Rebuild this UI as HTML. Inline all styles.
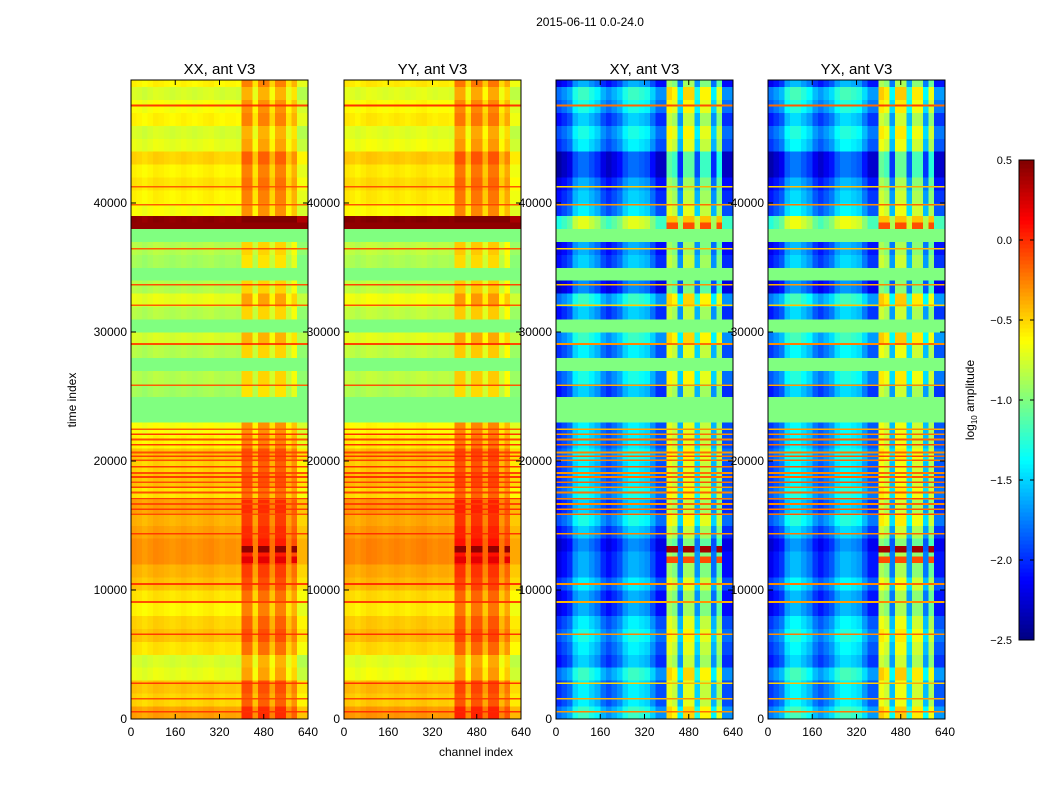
<!DOCTYPE html>
<html><head><meta charset="utf-8">
<style>
body{margin:0;background:#fff;}
svg{display:block;font-family:"Liberation Sans",sans-serif;}
</style></head>
<body>
<svg id="fig" width="1050" height="800" viewBox="0 0 1050 800">
<text x="590" y="26" font-size="12" text-anchor="middle">2015-06-11 0.0-24.0</text>
<g id="panels"></g>
<text x="476" y="756" font-size="12" text-anchor="middle">channel index</text>
<text x="76" y="400" font-size="12" text-anchor="middle" transform="rotate(-90 76 400)">time index</text>
<g id="cbar"></g>
<text x="974" y="400" font-size="12" text-anchor="middle" transform="rotate(-90 974 400)">log<tspan font-size="8" dy="3">10</tspan><tspan dy="-3"> amplitude</tspan></text>
</svg>
<script>
// ---- data ----
const panelTitles = ["XX, ant V3","YY, ant V3","XY, ant V3","YX, ant V3"];
const panelKinds = ["xx","xx","xy","xy"];
const panelShift = [0, 0.03, 0, 0.03];
const xTicks = [0,160,320,480,640];
const yTicks = [0,10000,20000,30000,40000];
const cbTicks = [-2.5,-2.0,-1.5,-1.0,-0.5,0.0,0.5];
// row level per 1000 time units (null = flagged -> green)
const xxRow = [-0.35,-0.5,-0.45,-0.7,-0.75,-0.55,-0.45,-0.5,-0.6,-0.55,-0.45,-0.4,-0.3,-0.3,-0.35,-0.4,-0.35,-0.55,-0.45,-0.5,-0.45,-0.6,-0.65,null,null,-0.9,-0.85,null,-0.85,-0.75,null,-0.85,-0.7,-0.85,null,-0.9,-0.85,null,0.45,-0.65,-0.6,-0.55,-0.6,-0.5,-0.7,-0.75,-0.6,-0.65,-0.75,-0.6];
const xyRow = [-1.6,-1.8,-1.8,-1.6,-1.9,-1.8,-1.7,-1.8,-2.0,-2.0,-1.8,-2.0,-2.0,-2.1,-1.9,-1.7,-1.9,-1.7,-1.8,-1.8,-1.7,-1.8,-1.8,null,null,-1.9,-1.7,null,-1.8,-1.6,null,-1.9,-1.6,-2.1,null,-1.9,-2.0,null,-1.1,-1.8,-1.9,-2.0,-2.2,-2.2,-1.8,-1.7,-1.9,-1.7,-1.6,-2.0];
// per 20-channel column offsets
const xxCol = [0.02,0,-0.03,0,0.03,0.02,0,-0.02,0,0.02,0,-0.02,0,0.02,0.03,0,-0.02,0,0,-0.02,0.35,0.35,0.05,0.35,0.35,0.1,0.35,0.35,0.05,0.2,-0.1,-0.1];
const xyCol = [-0.2,-0.1,0.0,0.3,0.4,0.4,0.3,0.2,0,-0.1,0,0.1,0.3,0.4,0.4,0.35,0.3,0.1,-0.1,-0.1,1.1,1.0,0.2,1.1,1.1,0.3,1.0,1.0,0.2,0.9,-0.1,-0.1];
// thin horizontal stripes
const stripeTimes = [500,1500,2700,6500,9000,10400,14300,15800,16200,16600,17000,17500,17900,18300,18700,19000,19500,20000,20300,20600,21200,21600,22000,22400,25800,29000,32000,33600,36400,39800,41200,47500];
const stripeXX = [-0.05,-0.1,-0.05,-0.05,-0.1,-0.05,-0.05,-0.1,-0.05,-0.1,-0.05,-0.1,-0.05,-0.1,-0.05,-0.1,-0.05,-0.1,-0.05,-0.1,-0.05,-0.1,-0.05,-0.15,-0.15,-0.1,-0.15,-0.1,-0.15,-0.15,-0.15,-0.05];
const stripeXY = [-0.3,-0.4,-0.5,-0.3,-0.4,-0.3,-0.3,-0.2,-0.25,-0.3,-0.2,-0.25,-0.3,-0.2,-0.25,-0.3,-0.2,-0.25,-0.2,-0.3,-0.2,-0.25,-0.3,-0.4,-0.4,-0.3,-0.5,-0.4,-0.5,-0.3,-0.5,-0.2];
const hotTimes = [12900, 12100, 38000];
const hotXY = [0.4, -0.1, -0.1];
const hotXX = [0.45, 0.2, 0.45];
// ---- geometry ----
const panelX = [131,344,556,768];
const pw = 177, yBot = 719, yTop = 80;
const tMax = (yBot - yTop) / 0.0129;
const ys = t => yBot - t * 0.0129;
const NS = "http://www.w3.org/2000/svg";
function clamp(v){return Math.max(0,Math.min(1,v));}
function jet(v){
  const t = clamp((v + 2.5) / 3);
  const r = clamp(1.5 - Math.abs(4*t-3)), g = clamp(1.5 - Math.abs(4*t-2)), b = clamp(1.5 - Math.abs(4*t-1));
  return `rgb(${Math.round(r*255)},${Math.round(g*255)},${Math.round(b*255)})`;
}
function mk(tag, attrs, parent){
  const e = document.createElementNS(NS, tag);
  for (const k in attrs) e.setAttribute(k, attrs[k]);
  parent.appendChild(e); return e;
}
const root = document.getElementById('panels');
panelTitles.forEach((title, p) => {
  const x0 = panelX[p], xs = c => x0 + c * pw / 640;
  const isXX = panelKinds[p] === 'xx';
  const g = mk('g', {}, root);
  
  
  const rows = isXX ? xxRow : xyRow;
  const cols = isXX ? xxCol : xyCol;
  const strip = isXX ? stripeXX : stripeXY;
  const hot = isXX ? hotXX : hotXY;
  const sh = panelShift[p];
  const cap = isXX ? 0.5 : -0.45;
  const cells = mk('g', {'shape-rendering':'crispEdges'}, g);
  
  
  rows.forEach((rv, i) => {
    const t0 = i * 1000;
    const tt1 = i === rows.length - 1 ? tMax : (i + 1) * 1000;
    cols.forEach((cv, j) => {
      const v = rv === null ? -1.0 : Math.min(rv + cv + sh, rv > 0 ? 0.5 : cap);
      const r = mk('rect', {x: xs(j*20), y: ys(tt1), width: xs((j+1)*20) - xs(j*20) + 0.3, height: ys(t0) - ys(tt1) + 0.3, fill: jet(v)}, cells);
      
      
    });
  });
  stripeTimes.forEach((t, k) => {
    cols.forEach((cv, j) => {
      const r = mk('rect', {x: xs(j*20), y: ys(t + 130), width: xs((j+1)*20) - xs(j*20) + 0.3, height: ys(t) - ys(t + 130), fill: jet(strip[k] + cv * 0.1 + sh)}, cells);
      
      
    });
  });
  hotTimes.forEach((t, k) => {
    cols.forEach((cv, j) => {
      if (cv < (isXX ? 0.2 : 0.5) && !(k === 2 && isXX)) return;
      const r = mk('rect', {x: xs(j*20), y: ys(t + 500), width: xs((j+1)*20) - xs(j*20) + 0.3, height: ys(t) - ys(t + 500), fill: jet(hot[k])}, cells);
      
      
    });
  });
  const fr = mk('rect', {x: x0, y: yTop, width: pw, height: yBot - yTop, fill: 'none', stroke: '#000', 'stroke-width': 1}, g);
  
  
  const tl = mk('text', {x: x0 + pw/2, y: 74, 'font-size': 15, 'text-anchor': 'middle'}, g);
  tl.textContent = title;
  
  
  xTicks.forEach(v => {
    const x = xs(v);
    mk('line', {x1: x, x2: x, y1: yBot, y2: yBot - 5, stroke: '#000'}, g);
    mk('line', {x1: x, x2: x, y1: yTop, y2: yTop + 5, stroke: '#000'}, g);
    const t = mk('text', {x: x, y: 736, 'font-size': 12, 'text-anchor': 'middle'}, g);
    t.textContent = v;
    
    
  });
  yTicks.forEach(v => {
    const y = ys(v);
    mk('line', {x1: x0, x2: x0 + 5, y1: y, y2: y, stroke: '#000'}, g);
    mk('line', {x1: x0 + pw, x2: x0 + pw - 5, y1: y, y2: y, stroke: '#000'}, g);
    const t = mk('text', {x: x0 - 4, y: y + 4, 'font-size': 12, 'text-anchor': 'end'}, g);
    t.textContent = v;
    
    
  });
});
// colorbar
const cb = document.getElementById('cbar');
const cbX = 1019, cbW = 15, cbTop = 160, cbBot = 640;
const cy = v => cbBot - (v + 2.5) / 3 * (cbBot - cbTop);
for (let i = 0; i < 120; i++) {
  const v0 = -2.5 + i * 3 / 120, v1 = v0 + 3 / 120;
  const r = mk('rect', {x: cbX, y: cy(v1), width: cbW, height: cy(v0) - cy(v1) + 0.5, fill: jet((v0 + v1) / 2), 'shape-rendering': 'crispEdges'}, cb);
  
  
}
mk('rect', {x: cbX, y: cbTop, width: cbW, height: cbBot - cbTop, fill: 'none', stroke: '#000'}, cb);
cbTicks.forEach(v => {
  const y = cy(v);
  mk('line', {x1: cbX + cbW - 4, x2: cbX + cbW, y1: y, y2: y, stroke: '#000'}, cb);
  mk('line', {x1: cbX, x2: cbX + 4, y1: y, y2: y, stroke: '#000'}, cb);
  const t = mk('text', {x: 1012, y: y + 4, 'font-size': 11, 'text-anchor': 'end'}, cb);
  t.textContent = v.toFixed(1).replace('-', '\u2212');
  
  
});
</script>
</body></html>
